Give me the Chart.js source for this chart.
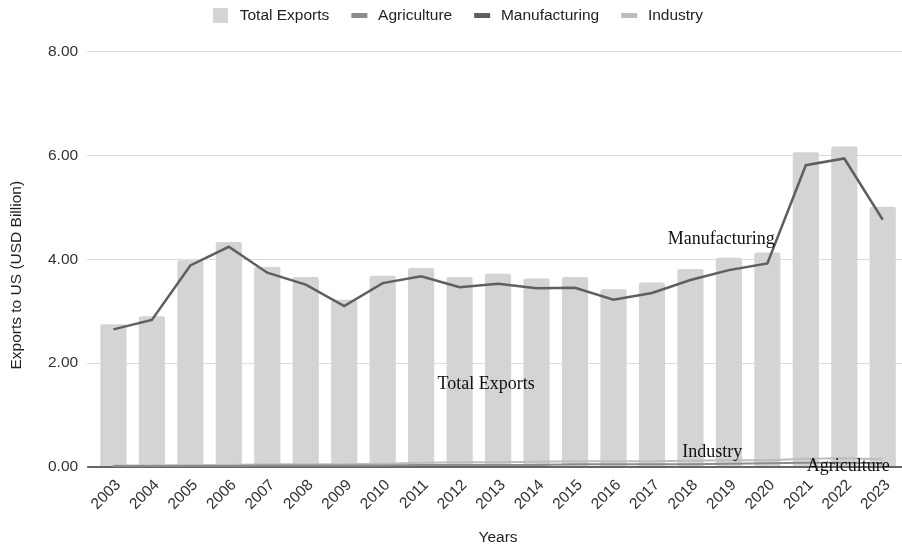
<!DOCTYPE html>
<html>
<head>
<meta charset="utf-8">
<script src="https://cdn.jsdelivr.net/npm/chart.js@4.4.1/dist/chart.umd.min.js"></script>
<style>
  html, body { margin: 0; padding: 0; background: #fff; }
  #wrap { width: 902px; height: 545px; }
</style>
</head>
<body>
<div id="wrap"><canvas id="exportsChart"></canvas></div>
<script>
const years = ['2003', '2004', '2005', '2006', '2007', '2008', '2009', '2010', '2011', '2012', '2013',
               '2014', '2015', '2016', '2017', '2018', '2019', '2020', '2021', '2022', '2023'];

const totalExports = [2.75, 2.90, 3.98, 4.33, 3.85, 3.66, 3.22, 3.68, 3.83, 3.66, 3.72,
                      3.63, 3.66, 3.42, 3.55, 3.81, 4.03, 4.13, 6.06, 6.17, 5.01];
const agriculture  = [0.02, 0.02, 0.02, 0.02, 0.03, 0.03, 0.03, 0.03, 0.04, 0.04, 0.04,
                      0.04, 0.05, 0.05, 0.05, 0.05, 0.06, 0.07, 0.08, 0.08, 0.07];
const manufacturing = [2.65, 2.83, 3.88, 4.24, 3.74, 3.51, 3.10, 3.54, 3.67, 3.46, 3.53,
                       3.44, 3.45, 3.22, 3.35, 3.60, 3.79, 3.92, 5.81, 5.94, 4.76];
const industry     = [0.03, 0.03, 0.04, 0.04, 0.05, 0.05, 0.05, 0.06, 0.08, 0.09, 0.09,
                      0.10, 0.11, 0.11, 0.11, 0.12, 0.13, 0.13, 0.16, 0.17, 0.15];

const yTicks = [0, 2, 4, 6, 8];
const yTitle = 'Exports to US (USD Billion)';

// text labels written over the plot, anchored in data units (category index, value)
const notes = [
  { text: 'Total Exports', at: 9.69, value: 1.60 },
  { text: 'Manufacturing', at: 15.8, value: 4.38 },
  { text: 'Industry',      at: 15.57, value: 0.29 },
  { text: 'Agriculture',   at: 19.1, value: 0.02 }
];

// legend marks: a transparent lead-in keeps the items apart, the swatch sits at the right
function swatch(w, h, color) {
  const c = document.createElement('canvas');
  c.width = 33; c.height = h;
  const g = c.getContext('2d');
  g.fillStyle = color;
  g.fillRect(14, 0, w, h);
  return c;
}

const notesPlugin = {
  id: 'notes',
  afterDatasetsDraw(chart) {
    const { ctx, scales: { x, y } } = chart;
    ctx.save();
    ctx.font = '18px "Liberation Serif", "DejaVu Serif", serif';
    ctx.fillStyle = '#111';
    ctx.textAlign = 'center';
    ctx.textBaseline = 'middle';
    notes.forEach(n => ctx.fillText(n.text, x.getPixelForValue(n.at), y.getPixelForValue(n.value)));
    ctx.restore();
  }
};

// y axis title, sitting a little below the middle of the plot
const yTitlePlugin = {
  id: 'yTitle',
  afterDraw(chart) {
    const { ctx, chartArea } = chart;
    ctx.save();
    ctx.translate(17, (chartArea.top + chartArea.bottom) / 2 + 16);
    ctx.rotate(-Math.PI / 2);
    ctx.font = '15.5px "Liberation Sans", Arial, sans-serif';
    ctx.fillStyle = '#222';
    ctx.textAlign = 'center';
    ctx.textBaseline = 'middle';
    ctx.fillText(yTitle, 0, 0);
    ctx.restore();
  }
};

// extra room between the legend row and the plot
const legendGap = {
  id: 'legendGap',
  afterInit(chart) {
    const fit = chart.legend.fit;
    chart.legend.fit = function () {
      fit.call(this);
      this.height += 18;
    };
  }
};

Chart.defaults.font.family = '"Liberation Sans", Arial, sans-serif';
Chart.defaults.font.size = 15.5;
Chart.defaults.color = '#444';

new Chart(document.getElementById('exportsChart'), {
  type: 'bar',
  data: {
    labels: years,
    datasets: [
      {
        type: 'bar',
        label: 'Total Exports',
        data: totalExports,
        backgroundColor: '#d4d4d4',
        borderRadius: 2,
        borderSkipped: 'bottom',
        categoryPercentage: 0.68,
        barPercentage: 1.0,
        order: 2,
        legendMark: swatch(15, 15, '#d4d4d4')
      },
      {
        type: 'line',
        label: 'Agriculture',
        data: agriculture,
        borderColor: '#8c8c8c',
        borderWidth: 2,
        pointRadius: 0,
        tension: 0,
        order: 1,
        legendMark: swatch(16, 5, '#8c8c8c')
      },
      {
        type: 'line',
        label: 'Manufacturing',
        data: manufacturing,
        borderColor: '#5f5f5f',
        borderWidth: 2.5,
        pointRadius: 0,
        tension: 0,
        order: 1,
        legendMark: swatch(16, 5, '#5f5f5f')
      },
      {
        type: 'line',
        label: 'Industry',
        data: industry,
        borderColor: '#bdbdbd',
        borderWidth: 2,
        pointRadius: 0,
        tension: 0,
        order: 1,
        legendMark: swatch(16, 5, '#bdbdbd')
      }
    ]
  },
  options: {
    responsive: true,
    maintainAspectRatio: false,
    animation: false,
    layout: { padding: 0 },
    plugins: {
      legend: {
        position: 'top',
        labels: {
          usePointStyle: true,
          pointStyleWidth: 33,
          padding: 8,
          color: '#222',
          sort: (a, b) => a.datasetIndex - b.datasetIndex,
          generateLabels(chart) {
            const items = Chart.defaults.plugins.legend.labels.generateLabels(chart);
            items.forEach(it => { it.pointStyle = chart.data.datasets[it.datasetIndex].legendMark; });
            return items;
          }
        }
      },
      tooltip: { enabled: false }
    },
    scales: {
      x: {
        grid: { display: false },
        border: { display: false },
        ticks: { color: '#333', maxRotation: 45, minRotation: 45, padding: 1, labelOffset: 5 },
        title: {
          display: true, text: 'Years', color: '#222',
          font: { lineHeight: 1.0 },
          padding: { top: 15, bottom: 0 }
        }
      },
      y: {
        min: 0,
        max: 8,
        afterBuildTicks(axis) { axis.ticks = yTicks.map(v => ({ value: v })); },
        // room on the left for the hand-drawn axis title
        afterFit(axis) { axis.width += 39; },
        border: { display: false },
        grid: {
          color: c => (c.tick && c.tick.value === 0 ? '#666' : '#dcdcdc'),
          lineWidth: c => (c.tick && c.tick.value === 0 ? 2 : 1),
          tickLength: 7
        },
        ticks: { color: '#333', padding: 9, callback: v => Number(v).toFixed(2) }
      }
    }
  },
  plugins: [notesPlugin, yTitlePlugin, legendGap]
});
</script>
</body>
</html>
